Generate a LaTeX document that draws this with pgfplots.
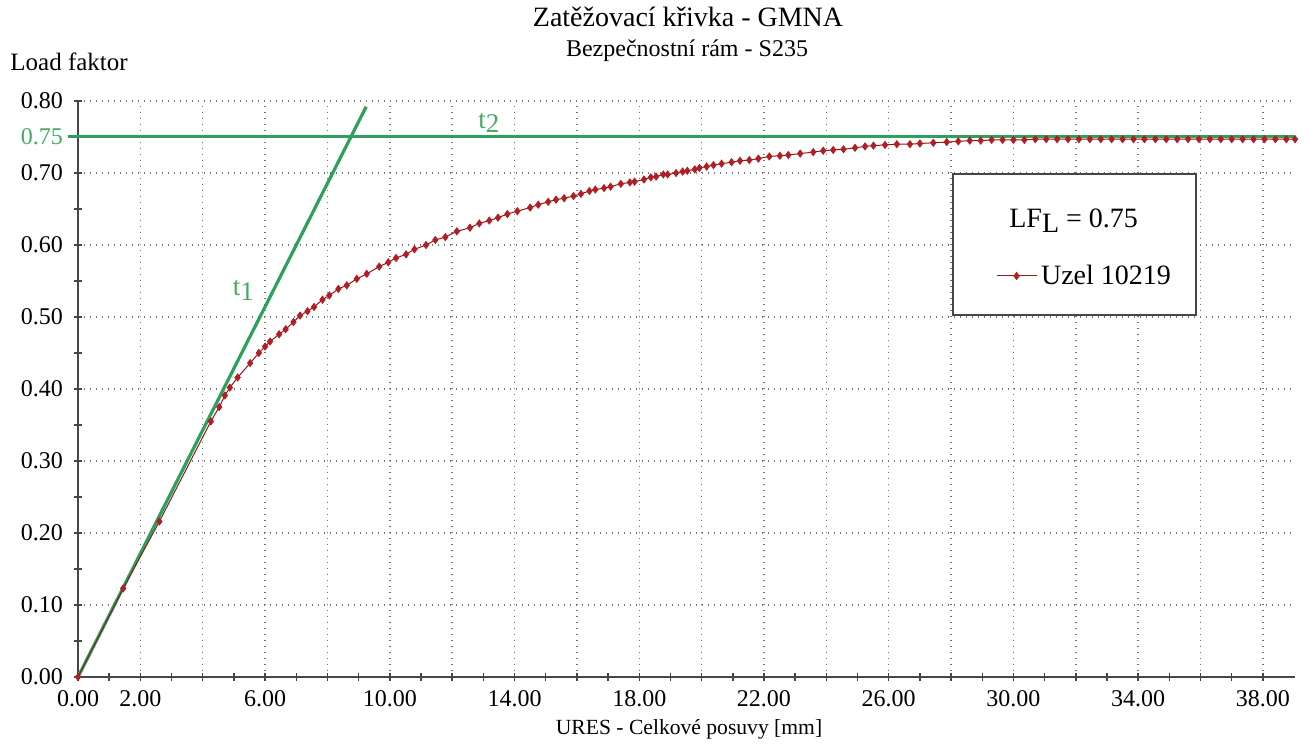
\documentclass[border=0pt]{standalone}
\usepackage{pgfplots}
\pgfplotsset{compat=1.18}
\usepackage{fontspec}
\setmainfont{Liberation Serif}
\definecolor{lgreen}{RGB}{44,160,92}
\definecolor{tgreen}{RGB}{70,170,100}
\definecolor{dred}{RGB}{178,30,36}
\definecolor{axgray}{RGB}{70,70,70}
\begin{document}
\begin{tikzpicture}
\path[use as bounding box] (0,0) rectangle (655pt,372pt);
\begin{axis}[
  at={(39pt,33.5pt)}, anchor=south west,
  scale only axis, width=608.5pt, height=288pt,
  xmin=0, xmax=39.03, ymin=0, ymax=0.8,
  axis x line*=bottom, axis y line*=left,
  axis line style={-, axgray, line width=0.8pt},
  clip=false,
  xtick={0,2,...,38},
  xticklabels={0.00,2.00,,6.00,,10.00,,14.00,,18.00,,22.00,,26.00,,30.00,,34.00,,38.00},
  ytick={0,0.1,...,0.8},
  yticklabels={0.00,0.10,0.20,0.30,0.40,0.50,0.60,0.70,0.80},
  minor x tick num=1, minor y tick num=1,
  tick align=center,
  major tick length=4pt, minor tick length=4pt,
  tick style={axgray, line width=0.7pt},
  xmajorgrids, ymajorgrids,
  major grid style={black!55, line width=0.7pt, dash pattern=on 0.7pt off 2.3pt},
  /pgf/number format/assume math mode=true,
  ticklabel style={font=\fontsize{12}{13}\selectfont},
  xticklabel style={yshift=-1pt},
  yticklabel style={xshift=-2pt},
  extra y ticks={0.75},
  extra y tick labels={0.75},
  extra y tick style={grid=none, tick style={draw=none}, yticklabel style={text=tgreen}},
  legend style={at={(axis cs:29.43,0.557)}, anchor=west, draw=none, fill=none,
    font=\fontsize{14}{16}\selectfont, inner sep=0pt,
    /tikz/every even column/.append style={column sep=7pt}},
  legend image code/.code={\draw[#1, mark repeat=2, mark phase=2] plot coordinates {(0pt,0pt) (10pt,0pt) (20pt,0pt)};},
]
% legend box
\draw[axgray, line width=0.9pt, fill=white] (axis cs:28.06,0.5028) rectangle (axis cs:35.86,0.6986);
% t2 horizontal
\addplot[lgreen, line width=1.6pt, forget plot] coordinates {(-0.33,0.751) (39.03,0.751)};
% t1 tangent
\addplot[lgreen, line width=1.6pt, forget plot] coordinates {(0,0) (9.24,0.792)};
% load curve
\addplot[color=dred!80!black, line width=0.5pt, mark=diamond*, mark size=1.7pt,
  mark options={fill=dred, draw=dred}] coordinates {
(0,0) (1.45,0.123) (2.61,0.216) (4.26,0.355) (4.53,0.375) (4.71,0.391) (4.87,0.402)
(5.12,0.416) (5.52,0.436) (5.80,0.450) (6.00,0.459) (6.16,0.466) (6.45,0.476) (6.66,0.483)
(6.91,0.493) (7.12,0.502) (7.36,0.508) (7.57,0.514) (7.84,0.524) (8.06,0.530) (8.35,0.539)
(8.62,0.544) (8.94,0.553) (9.26,0.560) (9.66,0.570) (9.95,0.576) (10.20,0.582) (10.52,0.587)
(10.79,0.594) (11.16,0.600) (11.46,0.607) (11.78,0.611) (12.15,0.619) (12.57,0.624) (12.87,0.630)
(13.19,0.634) (13.47,0.638) (13.77,0.643) (14.09,0.647) (14.50,0.652) (14.76,0.656) (15.08,0.660)
(15.33,0.663) (15.59,0.665) (15.89,0.668) (16.13,0.671) (16.40,0.675) (16.59,0.677) (16.87,0.679)
(17.08,0.681) (17.41,0.685) (17.70,0.687) (17.85,0.688) (18.15,0.691) (18.37,0.694) (18.54,0.695)
(18.77,0.698) (18.91,0.698) (19.18,0.700) (19.39,0.702) (19.54,0.703) (19.78,0.705) (19.93,0.707)
(20.16,0.709) (20.38,0.711) (20.64,0.713) (20.96,0.715) (21.23,0.717) (21.53,0.718) (21.82,0.720)
(22.17,0.723) (22.51,0.724) (22.78,0.725) (23.16,0.727) (23.58,0.729) (23.90,0.731) (24.22,0.732)
(24.55,0.733) (24.92,0.735) (25.24,0.737) (25.51,0.738) (25.88,0.739) (26.26,0.740) (26.68,0.740)
(27.00,0.741) (27.43,0.742) (27.86,0.743) (28.23,0.744) (28.60,0.745) (28.95,0.745) (29.30,0.746)
(29.65,0.746) (30.00,0.746) (30.35,0.746) (30.70,0.747) (31.05,0.747) (31.40,0.747) (31.75,0.747)
(32.10,0.747) (32.45,0.747) (32.80,0.747) (33.15,0.747) (33.50,0.747) (33.85,0.747) (34.20,0.747)
(34.55,0.747) (34.90,0.747) (35.25,0.747) (35.60,0.747) (35.95,0.747) (36.30,0.747) (36.65,0.747)
(37.00,0.747) (37.35,0.747) (37.70,0.747) (38.05,0.747) (38.40,0.747) (38.75,0.747) (39.03,0.747)
};
\addlegendentry{Uzel 10219}
\node[anchor=base, font=\fontsize{14}{16}\selectfont, inner sep=0pt] at (axis cs:31.93,0.625) {LF\raisebox{-0.4ex}{L} = 0.75};
\node[anchor=base west, text=tgreen, font=\fontsize{13.5}{15}\selectfont, inner sep=0pt] at (axis cs:4.95,0.530) {t\raisebox{-0.4ex}{1}};
\node[anchor=base west, text=tgreen, font=\fontsize{13.5}{15}\selectfont, inner sep=0pt] at (axis cs:12.83,0.7625) {t\raisebox{-0.4ex}{2}};
\end{axis}
\node[anchor=base, font=\fontsize{14}{16}\selectfont, inner sep=0pt] at (344pt,358.5pt) {Zatěžovací křivka - GMNA};
\node[anchor=base, font=\fontsize{12}{14}\selectfont, inner sep=0pt] at (343.5pt,343.5pt) {Bezpečnostní rám - S235};
\node[anchor=base west, font=\fontsize{12.5}{14}\selectfont, inner sep=0pt] at (5pt,336.5pt) {Load faktor};
\node[anchor=base, font=\fontsize{10.8}{12}\selectfont, inner sep=0pt] at (344.5pt,5pt) {URES - Celkové posuvy [mm]};
\end{tikzpicture}
\end{document}
